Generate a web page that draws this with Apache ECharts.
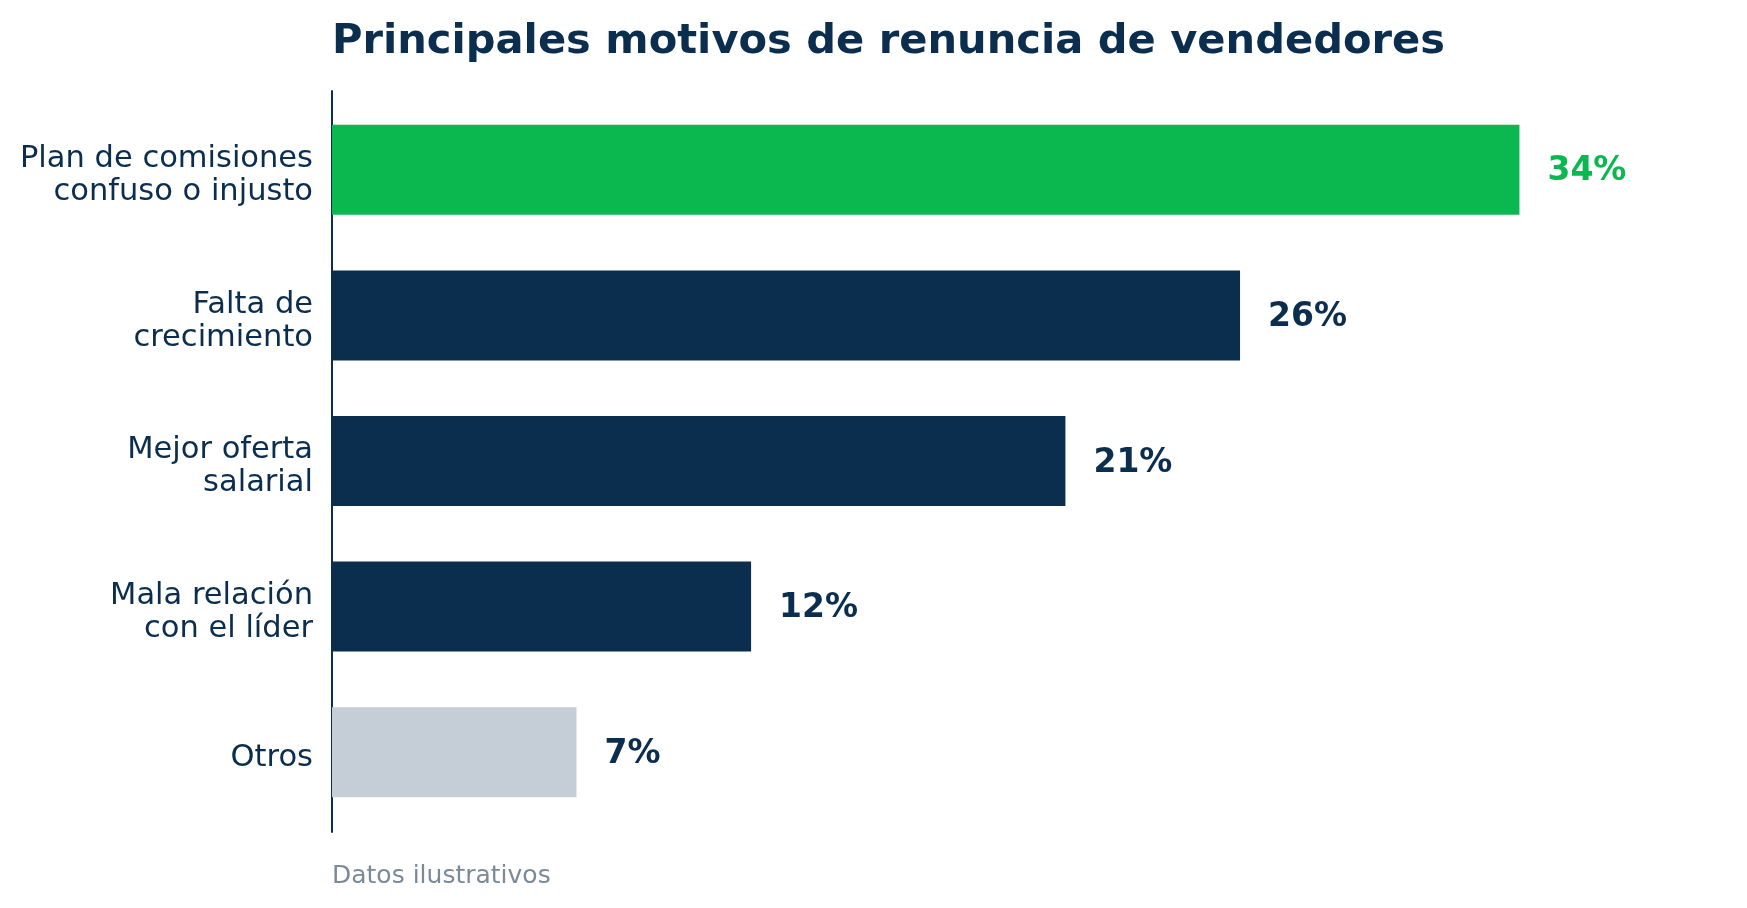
<!DOCTYPE html>
<html>
<head>
<meta charset="utf-8">
<style>html,body{margin:0;padding:0;background:#fff}#c{width:1747px;height:908px}</style>
<script src="https://cdn.jsdelivr.net/npm/echarts@6/dist/echarts.min.js"></script>
</head>
<body>
<div id="c"></div>
<script>
const categories = ['Plan de comisiones\nconfuso o injusto', 'Falta de\ncrecimiento', 'Mejor oferta\nsalarial', 'Mala relación\ncon el líder', 'Otros'];
const values = [34, 26, 21, 12, 7];
const barColors = ['#0bb850', '#0b2e4f', '#0b2e4f', '#0b2e4f', '#c5cdd6'];
const labelColors = ['#0bb850', '#0b2e4f', '#0b2e4f', '#0b2e4f', '#0b2e4f'];
const titleText = 'Principales motivos de renuncia de vendedores';
const noteText = 'Datos ilustrativos';

const navy = '#0b2e4f';
const font = 'DejaVu Sans';
const chart = echarts.init(document.getElementById('c'));
chart.setOption({
  animation: false,
  backgroundColor: '#ffffff',
  title: [
    { text: titleText, left: 332, top: 21, padding: 0, textStyle: { fontFamily: font, fontWeight: 'bold', fontSize: 41.6, color: navy } },
    { text: noteText, left: 332, top: 864, padding: 0, textStyle: { fontFamily: font, fontWeight: 'normal', fontSize: 25, color: '#7b8a99' } }
  ],
  grid: [
    { left: 332, right: 18, top: 97, bottom: 83 },
    { left: 332, right: 18, top: 91, bottom: 76 },
    { left: 332, right: 18, top: 103, bottom: 77 }
  ],
  xAxis: [
    { type: 'value', gridIndex: 0, min: 0, max: 40, show: false },
    { type: 'value', gridIndex: 1, min: 0, max: 40, show: false },
    { type: 'value', gridIndex: 2, min: 0, max: 40, show: false }
  ],
  yAxis: [
    {
      type: 'category', gridIndex: 0, data: categories, inverse: true,
      axisLine: { show: false }, axisTick: { show: false }, axisLabel: { show: false }
    },
    {
      type: 'value', gridIndex: 1, min: 0, max: 1,
      axisLine: { show: true, lineStyle: { color: navy, width: 2 } },
      axisTick: { show: false }, axisLabel: { show: false }, splitLine: { show: false }
    },
    {
      type: 'category', gridIndex: 2, data: categories, inverse: true,
      axisLine: { show: false }, axisTick: { show: false },
      axisLabel: { fontFamily: font, fontSize: 30.5, lineHeight: 33, color: navy, margin: 19, align: 'right' }
    }
  ],
  series: [{
    type: 'bar', xAxisIndex: 0, yAxisIndex: 0,
    barWidth: 90,
    data: values.map((v, i) => ({
      value: v,
      itemStyle: { color: barColors[i] },
      label: { color: labelColors[i] }
    })),
    label: {
      show: true, position: 'right', distance: 28, offset: [0, 2],
      formatter: p => p.value + '%',
      fontFamily: font, fontWeight: 'bold', fontSize: 33
    }
  }]
});
</script>
</body>
</html>
